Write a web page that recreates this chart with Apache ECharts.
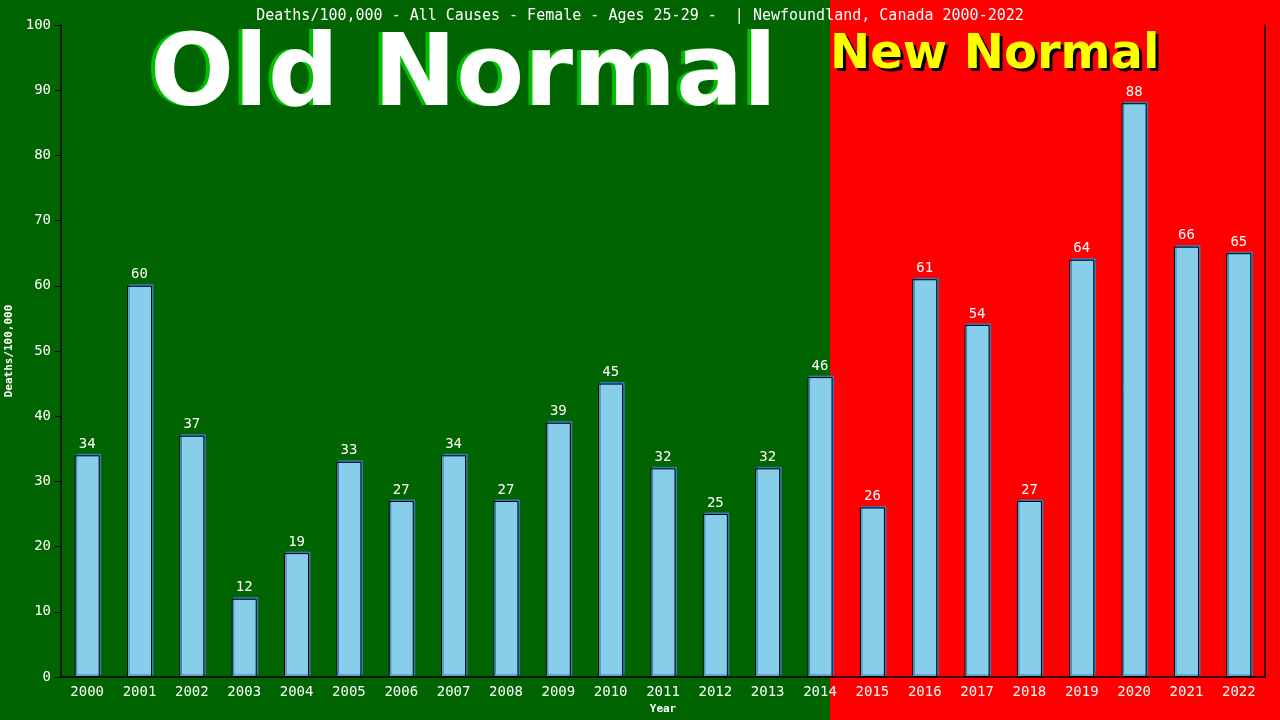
<!DOCTYPE html>
<html><head><meta charset="utf-8">
<script src="https://cdn.jsdelivr.net/npm/echarts@6/dist/echarts.min.js"></script>
<style>html,body{margin:0;padding:0;background:#006400}#c{width:1280px;height:720px}</style>
</head><body><div id="c"></div>
<script>
const years = ['2000','2001','2002','2003','2004','2005','2006','2007','2008','2009','2010','2011','2012','2013','2014','2015','2016','2017','2018','2019','2020','2021','2022'];
const deaths = [34,60,37,12,19,33,27,34,27,39,45,32,25,32,46,26,61,54,27,64,88,66,65];
const yTicks = [0,10,20,30,40,50,60,70,80,90,100];
const titleText = 'Deaths/100,000 - All Causes - Female - Ages 25-29 -  | Newfoundland, Canada 2000-2022';
const mono = '"DejaVu Sans Mono", monospace';
const bigFont = 'bold 99px "DejaVu Sans"';
const midFont = 'bold 48px "DejaVu Sans"';

const chart = echarts.init(document.getElementById('c'));
chart.setOption({
  backgroundColor: '#006400',
  animation: false,
  title: { text: titleText, left: 'center', top: 4,
    textStyle: { color: '#fff', fontFamily: mono, fontSize: 15, fontWeight: 'normal' } },
  graphic: [
    { type: 'rect', z: -10, shape: { x: 830, y: 0, width: 450, height: 720 }, style: { fill: '#ff0000' } },
    { type: 'text', z: 4, x: 146, y: 30, style: { text: 'Old Normal', fill: '#00c000', font: bigFont } },
    { type: 'text', z: 5, x: 150, y: 30, style: { text: 'Old Normal', fill: '#fff', font: bigFont } },
    { type: 'text', z: 4, x: 833, y: 35, style: { text: 'New Normal', fill: '#000', font: midFont } },
    { type: 'text', z: 5, x: 830, y: 32, style: { text: 'New Normal', fill: '#ffff00', font: midFont } }
  ],
  grid: { left: 61, right: 15, top: 25, bottom: 43, outerBoundsMode: 'none', containLabel: false },
  xAxis: {
    type: 'category', data: years,
    name: 'Year', nameLocation: 'middle', nameGap: 26,
    nameTextStyle: { color: '#fff', fontFamily: mono, fontSize: 11, fontWeight: 'bold' },
    axisLine: { lineStyle: { color: '#000', width: 1.5 } },
    axisTick: { show: false },
    axisLabel: { color: '#fff', fontFamily: mono, fontSize: 14, margin: 8, interval: 0 }
  },
  yAxis: [{
    type: 'value', min: yTicks[0], max: yTicks[yTicks.length-1], interval: 10,
    name: 'Deaths/100,000', nameLocation: 'middle', nameGap: 42, nameRotate: 90,
    nameTextStyle: { color: '#fff', fontFamily: mono, fontSize: 11, fontWeight: 'bold' },
    splitLine: { show: false },
    axisLine: { show: true, lineStyle: { color: '#000', width: 1.5 } },
    axisTick: { show: true, length: 6, lineStyle: { color: '#000' } },
    axisLabel: { color: '#fff', fontFamily: mono, fontSize: 14, margin: 10 }
  }, {
    type: 'value', min: 0, max: 100, interval: 10, position: 'right',
    splitLine: { show: false },
    axisLine: { show: true, lineStyle: { color: '#000', width: 1.5 } },
    axisTick: { show: false }, axisLabel: { show: false }
  }],
  series: [{
    type: 'bar', data: deaths, barWidth: 25,
    itemStyle: { color: '#87ceeb', borderColor: '#000', borderWidth: 1,
      shadowColor: '#3a7ab8', shadowOffsetX: 1.5, shadowOffsetY: -1.5, shadowBlur: 0 },
    label: { show: true, position: 'top', distance: 4, color: '#fff', fontFamily: mono, fontSize: 14 }
  }]
});
</script></body></html>
